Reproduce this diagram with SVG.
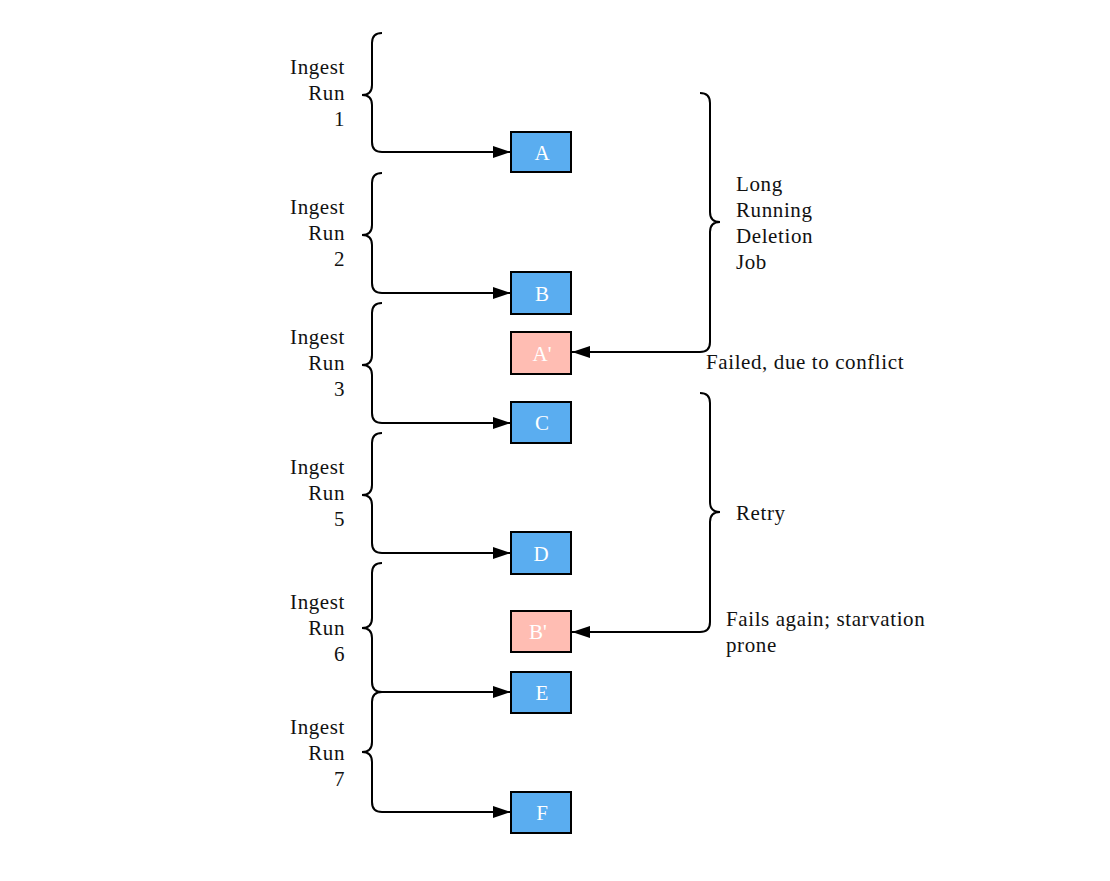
<svg xmlns="http://www.w3.org/2000/svg" width="1110" height="881" viewBox="0 0 1110 881">
<style>
.t{font-family:"Liberation Serif","DejaVu Serif",serif;font-size:21px;letter-spacing:0.6px;fill:#111}
.l{text-anchor:end}
.b{fill:#5aadf0;stroke:#000;stroke-width:2}
.p{fill:#ffbdb3;stroke:#000;stroke-width:2}
.bt{font-family:"Liberation Serif","DejaVu Serif",serif;font-size:21px;fill:#fff;text-anchor:middle}
.c{fill:none;stroke:#000;stroke-width:2}
</style>
<defs>
<marker id="ah" viewBox="0 0 18 12" refX="18" refY="6" markerWidth="18" markerHeight="12" markerUnits="userSpaceOnUse" orient="auto">
<path d="M0,0 L18,6 L0,12 Z" fill="#000"/>
</marker>
</defs>
<rect width="1110" height="881" fill="#fff"/>
<g id="connectors">
<path class="c" marker-end="url(#ah)" d="M382,33 Q372,33 372,43 L372,85 Q372,95 362,95 Q372,95 372,105 L372,142 Q372,152 382,152 L511,152"/>
<path class="c" marker-end="url(#ah)" d="M382,173 Q372,173 372,183 L372,225 Q372,235 362,235 Q372,235 372,245 L372,283 Q372,293 382,293 L511,293"/>
<path class="c" marker-end="url(#ah)" d="M382,303 Q372,303 372,313 L372,355 Q372,365 362,365 Q372,365 372,375 L372,413 Q372,423 382,423 L511,423"/>
<path class="c" marker-end="url(#ah)" d="M382,433 Q372,433 372,443 L372,485 Q372,495 362,495 Q372,495 372,505 L372,543 Q372,553 382,553 L511,553"/>
<path class="c" marker-end="url(#ah)" d="M382,563 Q372,563 372,573 L372,618 Q372,628 362,628 Q372,628 372,638 L372,682 Q372,692 382,692 L511,692"/>
<path class="c" marker-end="url(#ah)" d="M382,692 Q372,692 372,702 L372,742 Q372,752 362,752 Q372,752 372,762 L372,802 Q372,812 382,812 L511,812"/>
<path class="c" marker-end="url(#ah)" d="M700,93 Q710,93 710,103 L710,212 Q710,222 720,222 Q710,222 710,232 L710,342 Q710,352 700,352 L572,352"/>
<path class="c" marker-end="url(#ah)" d="M700,393 Q710,393 710,403 L710,502 Q710,512 720,512 Q710,512 710,522 L710,622 Q710,632 700,632 L572,632"/>
</g>
<g id="label-run1"><text class="t l" x="345" y="74">Ingest</text><text class="t l" x="345" y="100">Run</text><text class="t l" x="345" y="126">1</text></g>
<g id="label-run2"><text class="t l" x="345" y="214">Ingest</text><text class="t l" x="345" y="240">Run</text><text class="t l" x="345" y="266">2</text></g>
<g id="label-run3"><text class="t l" x="345" y="344">Ingest</text><text class="t l" x="345" y="370">Run</text><text class="t l" x="345" y="396">3</text></g>
<g id="label-run5"><text class="t l" x="345" y="474">Ingest</text><text class="t l" x="345" y="500">Run</text><text class="t l" x="345" y="526">5</text></g>
<g id="label-run6"><text class="t l" x="345" y="609">Ingest</text><text class="t l" x="345" y="635">Run</text><text class="t l" x="345" y="661">6</text></g>
<g id="label-run7"><text class="t l" x="345" y="734">Ingest</text><text class="t l" x="345" y="760">Run</text><text class="t l" x="345" y="786">7</text></g>
<g id="label-deletion"><text class="t" x="736" y="191">Long</text><text class="t" x="736" y="217">Running</text><text class="t" x="736" y="243">Deletion</text><text class="t" x="736" y="269">Job</text></g>
<g id="label-failed"><text class="t" x="706" y="369">Failed, due to conflict</text></g>
<g id="label-retry"><text class="t" x="736" y="520">Retry</text></g>
<g id="label-fails"><text class="t" x="726" y="626">Fails again; starvation</text><text class="t" x="726" y="652">prone</text></g>
<g id="node-A"><rect class="b" x="511" y="132" width="60" height="40"/><text class="bt" x="542" y="160">A</text></g>
<g id="node-B"><rect class="b" x="511" y="272" width="60" height="42"/><text class="bt" x="542" y="301">B</text></g>
<g id="node-A2"><rect class="p" x="511" y="332" width="60" height="42"/><text class="bt" x="542" y="361">A'</text></g>
<g id="node-C"><rect class="b" x="511" y="402" width="60" height="41"/><text class="bt" x="542" y="430">C</text></g>
<g id="node-D"><rect class="b" x="511" y="532" width="60" height="42"/><text class="bt" x="541" y="561">D</text></g>
<g id="node-B2"><rect class="p" x="511" y="611" width="60" height="41"/><text class="bt" x="538" y="639">B'</text></g>
<g id="node-E"><rect class="b" x="511" y="672" width="60" height="41"/><text class="bt" x="542" y="700">E</text></g>
<g id="node-F"><rect class="b" x="511" y="792" width="60" height="41"/><text class="bt" x="542" y="820">F</text></g>
</svg>
